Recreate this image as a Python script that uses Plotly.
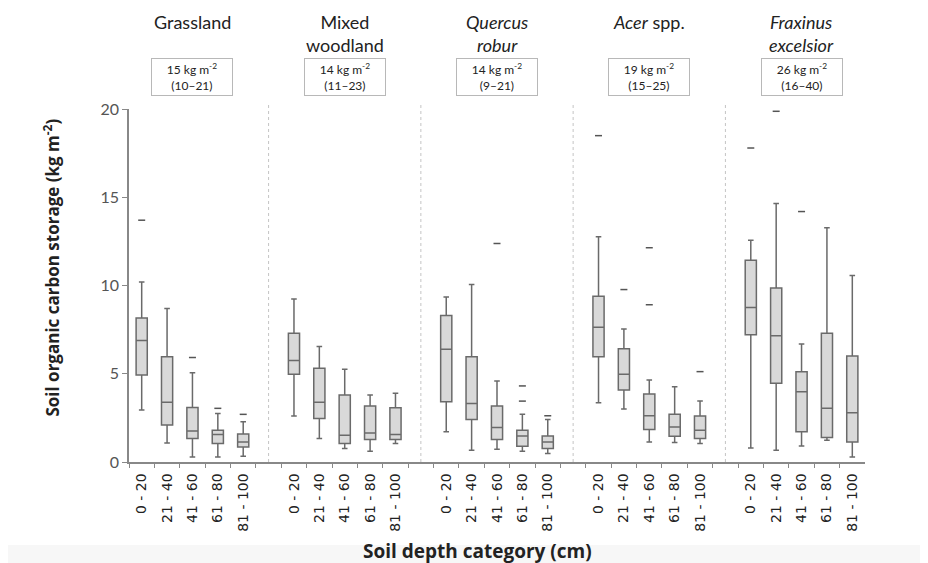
import plotly.graph_objects as go

# ---------------- data ----------------
groups = ["Grassland", "Mixed<br>woodland", "<i>Quercus</i><br><i>robur</i>",
          "<i>Acer</i> spp.", "<i>Fraxinus</i><br><i>excelsior</i>"]
group_totals = ["15 kg m<sup>-2</sup><br>(10–21)", "14 kg m<sup>-2</sup><br>(11–23)",
                "14 kg m<sup>-2</sup><br>(9–21)", "19 kg m<sup>-2</sup><br>(15–25)",
                "26 kg m<sup>-2</sup><br>(16–40)"]
depths = ["0 - 20", "21 - 40", "41 - 60", "61 - 80", "81 - 100"]

# per box, ordered group by group, depth by depth
lower = [2.94, 1.08, 0.28, 0.28, 0.32,
         2.60, 1.33, 0.76, 0.61, 1.05,
         1.71, 0.67, 0.72, 0.61, 0.48,
         3.36, 3.00, 1.14, 1.10, 1.05,
         0.80, 0.67, 0.91, 1.23, 0.28]
q1 = [4.93, 2.09, 1.33, 1.05, 0.85,
      4.97, 2.47, 1.05, 1.27, 1.27,
      3.41, 2.41, 1.27, 0.89, 0.76,
      5.97, 4.08, 1.84, 1.46, 1.33,
      7.21, 4.46, 1.71, 1.39, 1.14]
median = [6.88, 3.38, 1.75, 1.56, 1.14,
          5.75, 3.38, 1.52, 1.65, 1.56,
          6.39, 3.32, 1.96, 1.48, 1.14,
          7.64, 4.97, 2.62, 1.99, 1.80,
          8.76, 7.15, 3.98, 3.04, 2.79]
q3 = [8.16, 5.97, 3.09, 1.80, 1.58,
      7.30, 5.31, 3.79, 3.17, 3.07,
      8.30, 5.97, 3.17, 1.80, 1.48,
      9.39, 6.41, 3.85, 2.70, 2.60,
      11.43, 9.86, 5.12, 7.30, 6.01]
upper = [10.20, 8.69, 5.06, 2.75, 2.28,
         9.24, 6.54, 5.26, 3.79, 3.89,
         9.35, 10.05, 4.59, 2.70, 2.41,
         12.76, 7.53, 4.65, 4.27, 3.45,
         12.57, 14.64, 6.68, 13.27, 10.56]

# outliers: index of the box (0..24) and value
outlier_box = [0, 2, 3, 4, 12, 13, 13, 14, 15, 16, 17, 17, 19, 20, 21, 22]
outlier_val = [13.7, 5.92, 3.04, 2.70, 12.38, 3.45, 4.31, 2.62,
               18.49, 9.77, 8.91, 12.14, 5.12, 17.79, 19.87, 14.19]

# ---------------- layout helpers ----------------
n_depth = len(depths)
step = n_depth + 1  # one empty slot between groups
positions = [g * step + d for g in range(len(groups)) for d in range(n_depth)]
x_min, x_max = -0.5, positions[-1] + 0.5

LINE = "#6a6a6a"
FILL = "#d9d9d9"

fig = go.Figure()

for g in range(len(groups)):
    sl = slice(g * n_depth, (g + 1) * n_depth)
    fig.add_trace(go.Box(
        x=positions[sl], q1=q1[sl], median=median[sl], q3=q3[sl],
        lowerfence=lower[sl], upperfence=upper[sl],
        width=0.44, whiskerwidth=0.5,
        fillcolor=FILL, line=dict(color=LINE, width=1.5),
        boxpoints=False, showlegend=False, hoverinfo="skip",
    ))

fig.add_trace(go.Scatter(
    x=[positions[i] for i in outlier_box], y=outlier_val, mode="markers",
    marker=dict(symbol="line-ew", size=5, line=dict(color="#555555", width=1.5)),
    showlegend=False, hoverinfo="skip",
))

# invisible trace to host the tick-mark axis
fig.add_trace(go.Scatter(x=[x_min], y=[0], xaxis="x2", mode="markers",
                         marker=dict(opacity=0), showlegend=False, hoverinfo="skip"))

# separators
shapes = []
for g in range(1, len(groups)):
    xs = g * step - 1
    shapes.append(dict(type="line", xref="x", yref="paper", x0=xs, x1=xs, y0=0, y1=1.012,
                       line=dict(color="#c4c4c4", width=1, dash="dot")))
# faint bottom band
shapes.append(dict(type="rect", xref="paper", yref="paper", x0=-0.17, x1=1.09,
                   y0=-0.235, y1=-0.29, fillcolor="#f7f7f7", line=dict(width=0), layer="below"))

annotations = []
for g in range(len(groups)):
    cx = g * step + (n_depth - 1) / 2
    annotations.append(dict(x=cx, xref="x", y=1.284, yref="paper", text=groups[g],
                            showarrow=False, yanchor="top",
                            font=dict(family="Lato", size=18, color="#222222")))
    annotations.append(dict(x=cx, xref="x", y=1.091, yref="paper", text=group_totals[g],
                            showarrow=False, yanchor="middle", width=78, height=34,
                            bordercolor="#b8b8b8", borderwidth=1, borderpad=1,
                            font=dict(family="Lato", size=12, color="#222222")))

annotations.append(dict(x=0.473, xref="paper", y=-0.253, yref="paper",
                        text="<b>Soil depth category (cm)</b>", showarrow=False,
                        xanchor="center", yanchor="middle",
                        font=dict(family="Open Sans", size=19, color="#222222")))
annotations.append(dict(x=-0.105, xref="paper", y=0.55, yref="paper", textangle=-90,
                        text="<b>Soil organic carbon storage (kg m<sup>-2</sup>)</b>",
                        showarrow=False, xanchor="center", yanchor="middle",
                        font=dict(family="Open Sans", size=17, color="#222222")))

fig.update_layout(
    width=928, height=563,
    margin=dict(l=121, r=71, t=101, b=109),
    paper_bgcolor="white", plot_bgcolor="white",
    shapes=shapes, annotations=annotations,
    xaxis=dict(range=[x_min, x_max], tickvals=positions,
               ticktext=depths * len(groups), tickangle=-90,
               ticks="outside", ticklen=4, tickcolor="rgba(0,0,0,0)",
               showline=True, linecolor="#888888", linewidth=1.5,
               showgrid=False, zeroline=False,
               tickfont=dict(family="DejaVu Sans", size=14, color="#222222")),
    xaxis2=dict(range=[x_min, x_max], overlaying="x", side="bottom", anchor="y",
                tickvals=[p - 0.5 for p in range(int(x_max) + 1)],
                ticks="outside", ticklen=5, tickcolor="#888888",
                showticklabels=False, showgrid=False, zeroline=False, showline=False),
    yaxis=dict(range=[0, 20], dtick=5, ticks="outside", ticklen=5, tickcolor="#888888",
               showline=True, linecolor="#888888", linewidth=1.5,
               showgrid=False, zeroline=False,
               tickfont=dict(family="Lato", size=16, color="#555555")),
)

fig.write_html("out.html")
